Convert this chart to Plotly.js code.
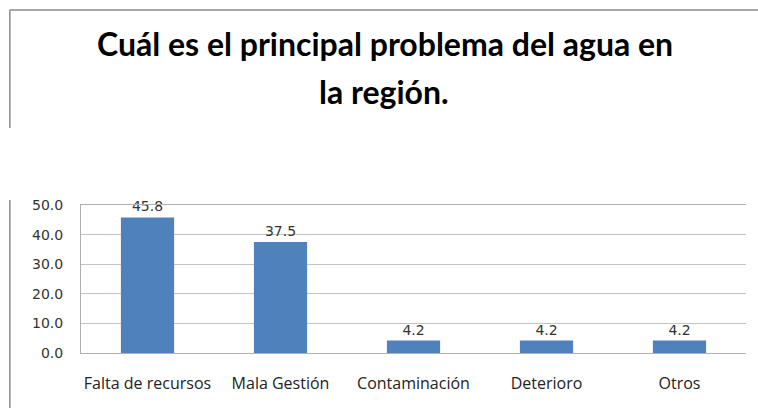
<!DOCTYPE html>
<html>
<head>
<meta charset="utf-8">
<script src="https://cdn.plot.ly/plotly-3.0.1.min.js"></script>
<style>
  html, body { margin: 0; padding: 0; background: #fff; }
  #chart { width: 758px; height: 408px; }
</style>
</head>
<body>
<div id="chart"></div>
<script>
var categories = ['Falta de recursos', 'Mala Gestión', 'Contaminación', 'Deterioro', 'Otros'];
var percentages = [45.8, 37.5, 4.2, 4.2, 4.2];
var yTicks = [0, 10, 20, 30, 40, 50];
var titleLines = ['Cuál es el principal problema del agua en', 'la región.'];

var bars = {
  type: 'bar',
  x: categories,
  y: percentages,
  marker: {color: '#4f81bd'},
  texttemplate: '%{y:.1f}',
  textposition: 'outside',
  cliponaxis: false,
  textfont: {family: 'DejaVu Sans', size: 14, color: '#333'},
  hoverinfo: 'skip'
};

var grey = '#8a8a8a';
var titleFont = {family: 'Lato', size: 32, color: '#000'};

var layout = {
  width: 758,
  height: 408,
  margin: {l: 81, r: 12, t: 205, b: 55},
  paper_bgcolor: '#fff',
  plot_bgcolor: '#fff',
  showlegend: false,
  bargap: 0.6,
  title: {
    text: '<b>' + titleLines[0] + '</b>',
    font: titleFont,
    x: 0.508,
    xanchor: 'center',
    y: 0.89,
    yanchor: 'middle'
  },
  annotations: [{
    // second title line, set a bit lower like the original
    text: '<b>' + titleLines[1] + '</b>',
    font: titleFont,
    xref: 'paper', yref: 'paper',
    x: 0.456, y: 1.764,
    xanchor: 'center', yanchor: 'middle',
    showarrow: false
  }],
  xaxis: {
    showline: true,
    mirror: true,
    linecolor: '#b0b0b0',
    ticks: '',
    ticklabelstandoff: 16,
    tickfont: {family: 'Open Sans', size: 16, color: '#222'}
  },
  yaxis: {
    range: [0, 50],
    tickvals: yTicks,
    tickformat: '.1f',
    showline: true,
    linecolor: '#b0b0b0',
    gridcolor: '#c4c4c4',
    zeroline: false,
    ticks: '',
    ticklabelstandoff: 14,
    tickfont: {family: 'DejaVu Sans', size: 14, color: '#333'}
  },
  shapes: [
    // frame pieces from the original document
    {type: 'line', xref: 'paper', yref: 'paper', x0: -0.107, x1: 1.02, y0: 2.318, y1: 2.318, line: {color: grey, width: 1.5}},
    {type: 'line', xref: 'paper', yref: 'paper', x0: -0.107, x1: -0.107, y0: 2.318, y1: 1.52, line: {color: grey, width: 1.5}},
    {type: 'line', xref: 'paper', yref: 'paper', x0: -0.107, x1: -0.107, y0: 1.034, y1: -0.4, line: {color: grey, width: 1.5}}
  ]
};

Plotly.newPlot('chart', [bars], layout, {displayModeBar: false, staticPlot: true});
</script>
</body>
</html>
